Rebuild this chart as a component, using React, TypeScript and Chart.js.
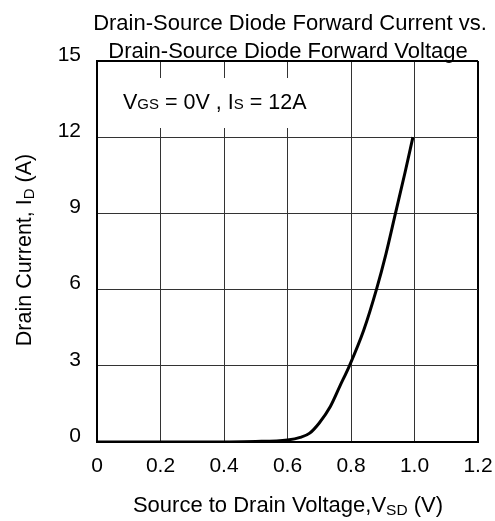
import React, { useEffect, useRef } from "react";
import { Chart, registerables } from "chart.js";

Chart.register(...registerables);

const VSD = [0, 0.3, 0.5, 0.6, 0.64, 0.67, 0.7, 0.735, 0.765, 0.795, 0.84, 0.88, 0.91, 0.94, 0.97, 0.995];
const ID = [0, 0, 0.02, 0.08, 0.18, 0.35, 0.75, 1.4, 2.2, 3.0, 4.4, 6.0, 7.4, 9.0, 10.6, 12.0];
const X_TICKS = ["0", "0.2", "0.4", "0.6", "0.8", "1.0", "1.2"];
const Y_TICKS = ["0", "3", "6", "9", "12", "15"];
const TITLE_LINES = ["Drain-Source Diode Forward Current vs.", "Drain-Source Diode Forward Voltage"];

const FONT = '"Liberation Sans", Arial, sans-serif';

type Run = { t: string; s: number; dy: number };

function drawRuns(ctx: CanvasRenderingContext2D, runs: Run[], x: number, y: number, align: "left" | "center") {
  let total = 0;
  const widths = runs.map((r) => {
    ctx.font = `${r.s}px ${FONT}`;
    const w = ctx.measureText(r.t).width;
    total += w;
    return w;
  });
  let cx = align === "center" ? x - total / 2 : x;
  ctx.textAlign = "left";
  ctx.textBaseline = "alphabetic";
  runs.forEach((r, i) => {
    ctx.font = `${r.s}px ${FONT}`;
    ctx.fillText(r.t, cx, y + r.dy);
    cx += widths[i];
  });
}

const textPlugin = {
  id: "texts",
  beforeDatasetsDraw(chart: any) {
    const ctx = chart.ctx as CanvasRenderingContext2D;
    ctx.save();
    ctx.fillStyle = "#fff";
    ctx.fillRect(99, 78, 230, 50);
    ctx.restore();
  },
  afterDraw(chart: any) {
    const ctx = chart.ctx as CanvasRenderingContext2D;
    ctx.save();
    ctx.fillStyle = "#000";
    drawRuns(ctx, [{ t: TITLE_LINES[0], s: 22, dy: 0 }], 290, 30, "center");
    drawRuns(ctx, [{ t: TITLE_LINES[1], s: 22, dy: 0 }], 288, 58, "center");
    drawRuns(
      ctx,
      [
        { t: "V", s: 21.5, dy: 0 },
        { t: "GS", s: 15, dy: 0 },
        { t: " = 0V , I", s: 21.5, dy: 0 },
        { t: "S", s: 15, dy: 0 },
        { t: " = 12A", s: 21.5, dy: 0 },
      ],
      123,
      109,
      "left"
    );
    drawRuns(
      ctx,
      [
        { t: "Source to Drain Voltage,V", s: 22, dy: 0 },
        { t: "SD", s: 15.5, dy: 3 },
        { t: " (V)", s: 22, dy: 0 },
      ],
      288,
      512,
      "center"
    );
    ctx.translate(0, 250);
    ctx.rotate(-Math.PI / 2);
    drawRuns(
      ctx,
      [
        { t: "Drain Current, I", s: 21.5, dy: 0 },
        { t: "D", s: 15, dy: 3 },
        { t: " (A)", s: 21.5, dy: 0 },
      ],
      0,
      31,
      "center"
    );
    ctx.restore();
  },
};

export default function App() {
  const ref = useRef<HTMLCanvasElement | null>(null);
  useEffect(() => {
    if (!ref.current) return;
    Chart.defaults.font.family = FONT;
    Chart.defaults.color = "#000";
    const chart = new Chart(ref.current, {
      type: "scatter",
      data: {
        datasets: [
          {
            data: VSD.map((v, i) => ({ x: v, y: ID[i] })),
            showLine: true,
            borderColor: "#000",
            borderWidth: 3,
            pointRadius: 0,
            cubicInterpolationMode: "monotone",
          },
        ],
      },
      options: {
        responsive: false,
        animation: false,
        layout: { padding: { left: 0, right: 17, top: 61, bottom: 0 } },
        plugins: { legend: { display: false }, title: { display: false }, tooltip: { enabled: false } },
        scales: {
          x: {
            type: "linear",
            min: 0,
            max: 1.2,
            afterFit: (s: any) => {
              s.height = 79;
              s.paddingLeft = 0;
              s.paddingRight = 0;
            },
            afterBuildTicks: (s: any) => {
              s.ticks = X_TICKS.map((_, i) => ({ value: i * 0.2 }));
            },
            ticks: {
              padding: 12,
              font: { size: 21 },
              color: "#000",
              callback: (_v: any, i: number) => X_TICKS[i],
            },
            grid: {
              drawTicks: false,
              color: (c: any) => (c.index === X_TICKS.length - 1 ? "#000" : "#333"),
              lineWidth: (c: any) => (c.index === X_TICKS.length - 1 ? 2 : 1),
            },
            border: { display: true, color: "#000", width: 2 },
          },
          y: {
            type: "linear",
            min: 0,
            max: 15,
            afterFit: (s: any) => {
              s.width = 97;
              s.paddingTop = 0;
              s.paddingBottom = 0;
            },
            afterBuildTicks: (s: any) => {
              s.ticks = Y_TICKS.map((_, i) => ({ value: i * 3 }));
            },
            ticks: {
              padding: 16,
              labelOffset: -6,
              font: { size: 21 },
              color: "#000",
              callback: (_v: any, i: number) => Y_TICKS[i],
            },
            grid: {
              drawTicks: false,
              color: (c: any) => (c.index === Y_TICKS.length - 1 ? "#000" : "#333"),
              lineWidth: (c: any) => (c.index === Y_TICKS.length - 1 ? 2 : 1),
            },
            border: { display: true, color: "#000", width: 2 },
          },
        },
      },
      plugins: [textPlugin],
    } as any);
    return () => chart.destroy();
  }, []);
  return (
    <div style={{ position: "fixed", left: 0, top: 0, width: 495, height: 521, background: "#fff" }}>
      <canvas ref={ref} width={495} height={521} style={{ display: "block" }} />
    </div>
  );
}
